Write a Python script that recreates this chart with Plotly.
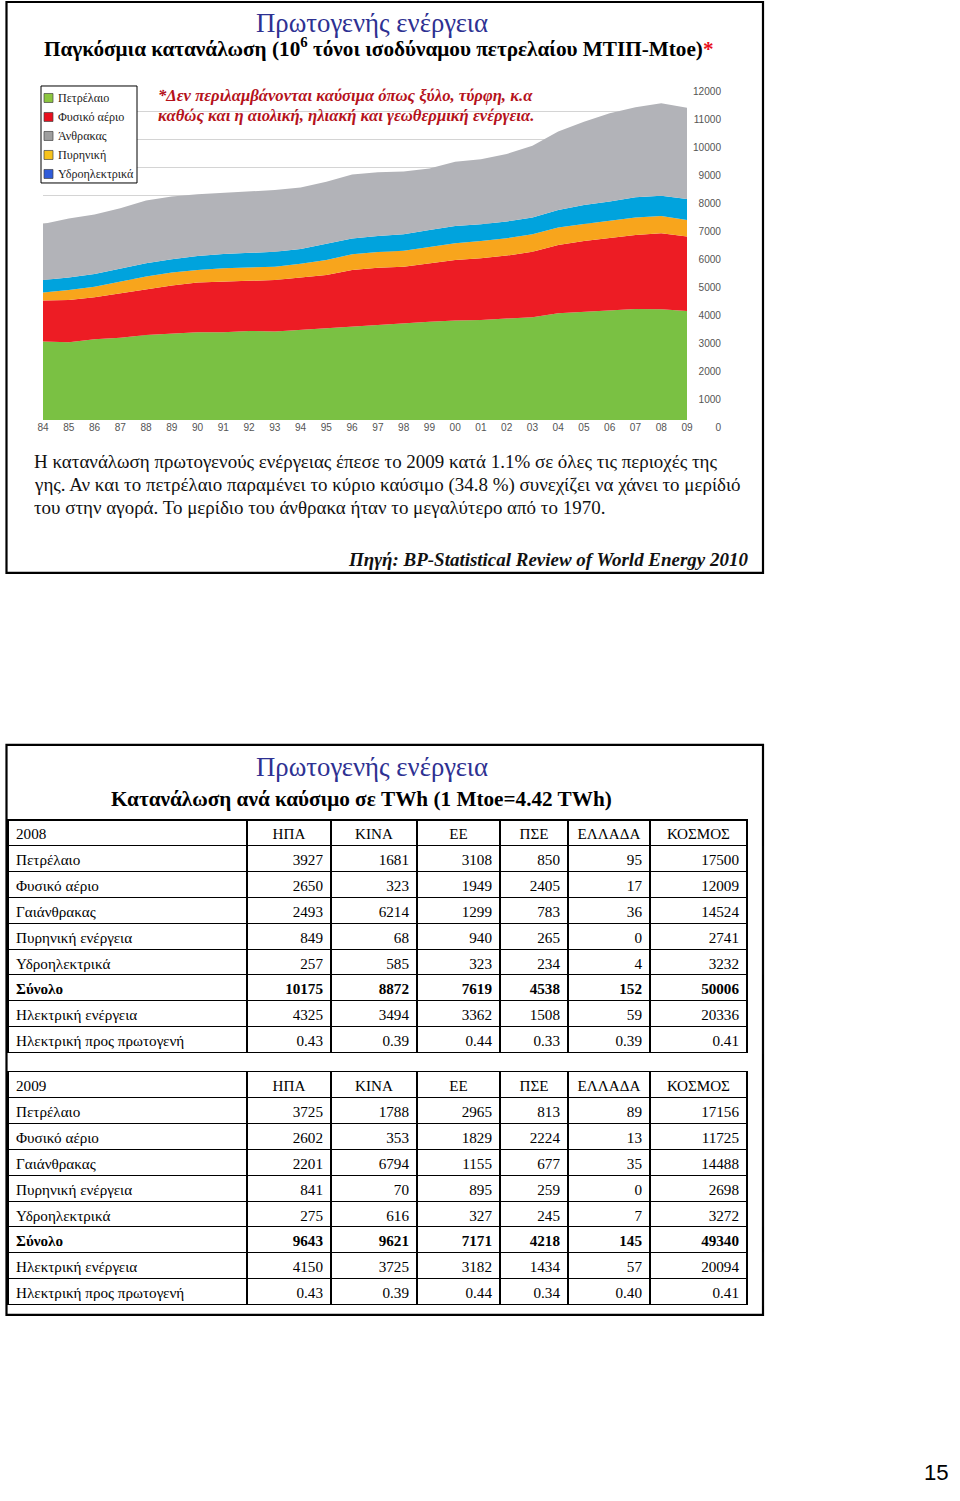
import plotly.graph_objects as go

W, H = 960, 1501

# ---------------- chart data (Mtoe) ----------------
years = list(range(1984, 2010))
year_labels = ["84", "85", "86", "87", "88", "89", "90", "91", "92", "93", "94", "95", "96",
               "97", "98", "99", "00", "01", "02", "03", "04", "05", "06", "07", "08", "09"]
oil = [2800, 2775, 2880, 2940, 3035, 3095, 3130, 3130, 3180, 3155, 3215, 3275, 3355,
       3415, 3450, 3510, 3550, 3570, 3620, 3665, 3810, 3855, 3895, 3965, 3950, 3895]
gas = [1465, 1510, 1500, 1585, 1645, 1705, 1775, 1810, 1810, 1845, 1870, 1905, 2000,
       2025, 2025, 2085, 2165, 2205, 2250, 2345, 2440, 2535, 2595, 2645, 2715, 2655]
nuclear = [285, 355, 380, 415, 440, 465, 450, 475, 465, 475, 490, 535, 560,
           560, 570, 570, 595, 620, 620, 620, 620, 605, 620, 620, 620, 595]
hydro = [450, 450, 450, 455, 475, 475, 500, 510, 525, 535, 535, 595, 570,
         570, 585, 620, 620, 595, 595, 605, 630, 680, 690, 725, 725, 750]
coal = [2000, 2105, 2130, 2165, 2240, 2240, 2205, 2190, 2180, 2200, 2190, 2200, 2285,
        2275, 2240, 2200, 2295, 2320, 2415, 2560, 2800, 2975, 3155, 3215, 3300, 3260]

series_names = ["Πετρέλαιο", "Φυσικό αέριο", "Πυρηνική", "Υδροηλεκτρικά", "Άνθρακας"]
series_vals = [oil, gas, nuclear, hydro, coal]
series_cols = ["#7AC143", "#ED1C24", "#F8A51C", "#00A3DD", "#B2B3B8"]

legend_names = ["Πετρέλαιο", "Φυσικό αέριο", "Άνθρακας", "Πυρηνική", "Υδροηλεκτρικά"]
legend_cols = ["#8CC63F", "#E8101E", "#9E9E9E", "#F7C21C", "#2F5BD9"]

y_ticks = list(range(0, 12001, 1000))

# ---------------- table data (TWh) ----------------
countries = ["ΗΠΑ", "ΚΙΝΑ", "ΕΕ", "ΠΣΕ", "ΕΛΛΑΔΑ", "ΚΟΣΜΟΣ"]
row_names = ["Πετρέλαιο", "Φυσικό αέριο", "Γαιάνθρακας", "Πυρηνική ενέργεια",
             "Υδροηλεκτρικά", "Σύνολο", "Ηλεκτρική ενέργεια", "Ηλεκτρική προς πρωτογενή"]
bold_row = "Σύνολο"

t2008 = {
    "ΗΠΑ":    [3927, 2650, 2493, 849, 257, 10175, 4325, 0.43],
    "ΚΙΝΑ":   [1681, 323, 6214, 68, 585, 8872, 3494, 0.39],
    "ΕΕ":     [3108, 1949, 1299, 940, 323, 7619, 3362, 0.44],
    "ΠΣΕ":    [850, 2405, 783, 265, 234, 4538, 1508, 0.33],
    "ΕΛΛΑΔΑ": [95, 17, 36, 0, 4, 152, 59, 0.39],
    "ΚΟΣΜΟΣ": [17500, 12009, 14524, 2741, 3232, 50006, 20336, 0.41],
}
t2009 = {
    "ΗΠΑ":    [3725, 2602, 2201, 841, 275, 9643, 4150, 0.43],
    "ΚΙΝΑ":   [1788, 353, 6794, 70, 616, 9621, 3725, 0.39],
    "ΕΕ":     [2965, 1829, 1155, 895, 327, 7171, 3182, 0.44],
    "ΠΣΕ":    [813, 2224, 677, 259, 245, 4218, 1434, 0.34],
    "ΕΛΛΑΔΑ": [89, 13, 35, 0, 7, 145, 57, 0.40],
    "ΚΟΣΜΟΣ": [17156, 11725, 14488, 2698, 3272, 49340, 20094, 0.41],
}

SERIF = "Liberation Serif"
SANS = "Liberation Sans"

# the photographed page comes out slightly shrunk; place items so they land on target pixels
SX, OX, SY = 0.9875, 6.0, 0.9915
FS = 1.01  # font compensation


def px(x):
    return min(max((x - OX) / SX, 0.5), W - 0.5) / W


def py(y):
    return 1 - (y / SY) / H


def f(size):
    return size * FS


fig = go.Figure()

# stacked areas
for name, vals, col in zip(series_names, series_vals, series_cols):
    fig.add_trace(go.Scatter(
        x=years, y=vals, name=name, mode="lines", stackgroup="energy",
        line=dict(width=0, color=col), fillcolor=col, showlegend=False,
        hoverinfo="x+y+name"))


def fmt(v):
    return f"{v:.2f}" if isinstance(v, float) else str(v)


RH = 25.75 / SY
COLW = [239, 84, 86, 83, 68, 82, 97]
LINE = dict(color="black", width=1.3)


def add_table(year, data, top):
    """Table drawn in two parts so that the bold total row keeps the same height."""
    b = row_names.index(bold_row)
    columns = [row_names] + [[fmt(v) for v in data[c]] for c in countries]
    n1 = b + 1
    top_f = top / SY
    y1_f = top_f + n1 * RH
    fig.add_trace(go.Table(
        domain=dict(x=[px(8), px(747)], y=[1 - (y1_f + 1.5) / H, 1 - top_f / H]),
        columnwidth=COLW,
        header=dict(values=[str(year)] + countries,
                    align=["left"] + ["center"] * 6,
                    font=dict(family=SERIF, size=f(15), color="black"),
                    fill_color="white", line=LINE, height=RH),
        cells=dict(values=[col[:b] for col in columns],
                   align=["left"] + ["right"] * 6,
                   font=dict(family=SERIF, size=f(15), color="black"),
                   fill_color="white", line=LINE, height=RH)))
    n2 = len(row_names) - b
    y2_f = y1_f + n2 * RH
    fig.add_trace(go.Table(
        domain=dict(x=[px(8), px(747)], y=[1 - (y2_f + 3) / H, 1 - y1_f / H]),
        columnwidth=COLW,
        header=dict(values=[col[b] for col in columns],
                    align=["left"] + ["right"] * 6,
                    font=dict(family=SERIF, size=f(15), color="black", weight="bold"),
                    fill_color="white", line=LINE, height=RH),
        cells=dict(values=[col[b + 1:] for col in columns],
                   align=["left"] + ["right"] * 6,
                   font=dict(family=SERIF, size=f(15), color="black"),
                   fill_color="white", line=LINE, height=RH)))


add_table(2008, t2008, 820)
add_table(2009, t2009, 1072)

annotations = [
    dict(x=px(372), y=py(23), text="Πρωτογενής ενέργεια",
         font=dict(family=SERIF, size=f(26.5), color="#2E3192"), xanchor="center"),
    dict(x=px(379), y=py(48),
         text="<b>Παγκόσμια κατανάλωση (10<sup>6</sup> τόνοι ισοδύναμου πετρελαίου ΜΤΙΠ-Mtoe)"
              "<span style='color:#E8101E'>*</span></b>",
         font=dict(family=SERIF, size=f(21), color="black"), xanchor="center"),
    dict(x=px(156), y=py(96), text="<b><i>*Δεν περιλαμβάνονται καύσιμα όπως ξύλο, τύρφη, κ.α</i></b>",
         font=dict(family=SERIF, size=f(16.5), color="#B5121B"), xanchor="left"),
    dict(x=px(156), y=py(116), text="<b><i>καθώς και η αιολική, ηλιακή και γεωθερμική ενέργεια.</i></b>",
         font=dict(family=SERIF, size=f(16.5), color="#B5121B"), xanchor="left"),
    dict(x=px(32), y=py(462),
         text="Η κατανάλωση πρωτογενούς ενέργειας έπεσε το 2009 κατά 1.1% σε όλες τις περιοχές της",
         font=dict(family=SERIF, size=f(18.8), color="#111"), xanchor="left"),
    dict(x=px(32), y=py(485),
         text="γης. Αν και το πετρέλαιο παραμένει το κύριο καύσιμο (34.8 %) συνεχίζει να χάνει το μερίδιό",
         font=dict(family=SERIF, size=f(18.8), color="#111"), xanchor="left"),
    dict(x=px(32), y=py(508),
         text="του στην αγορά. Το μερίδιο του άνθρακα ήταν το μεγαλύτερο από το 1970.",
         font=dict(family=SERIF, size=f(18.8), color="#111"), xanchor="left"),
    dict(x=px(750), y=py(560), text="<b><i>Πηγή: BP-Statistical Review of World Energy 2010</i></b>",
         font=dict(family=SERIF, size=f(18.8), color="#111"), xanchor="right"),
    dict(x=px(372), y=py(767), text="Πρωτογενής ενέργεια",
         font=dict(family=SERIF, size=f(26.5), color="#2E3192"), xanchor="center"),
    dict(x=px(362), y=py(799), text="<b>Κατανάλωση ανά καύσιμο σε TWh (1 Mtoe=4.42 TWh)</b>",
         font=dict(family=SERIF, size=f(21), color="black"), xanchor="center"),
]

shapes = [
    dict(type="rect", xref="paper", yref="paper", x0=px(2), x1=px(763), y0=py(573), y1=py(2),
         line=dict(color="black", width=2.2), fillcolor="rgba(0,0,0,0)", layer="below"),
    dict(type="rect", xref="paper", yref="paper", x0=px(2), x1=px(763), y0=py(1315), y1=py(745),
         line=dict(color="black", width=2.2), fillcolor="rgba(0,0,0,0)", layer="below"),
    dict(type="rect", xref="paper", yref="paper", x0=px(41), x1=px(137), y0=py(183), y1=py(86),
         line=dict(color="black", width=1), fillcolor="white", layer="above"),
]

for i, (name, col) in enumerate(zip(legend_names, legend_cols)):
    yc = 98 + 19 * i
    shapes.append(dict(type="rect", xref="paper", yref="paper",
                       x0=px(44), x1=px(53), y0=py(yc + 4.5), y1=py(yc - 4.5),
                       line=dict(color="#444", width=0.7), fillcolor=col, layer="above"))
    annotations.append(dict(x=px(56), y=py(yc), text=name, xanchor="left",
                            font=dict(family=SERIF, size=f(12), color="#222")))

for a in annotations:
    a.update(xref="paper", yref="paper", yanchor="middle", showarrow=False)

# page number at the bottom-right corner, kept fully inside the page
annotations.append(dict(x=1 - 3 / W, y=1 / H, xref="paper", yref="paper",
                        xanchor="right", yanchor="bottom", showarrow=False, text="15",
                        font=dict(family=SANS, size=f(22), color="black")))

fig.update_layout(
    width=W, height=H, margin=dict(l=0, r=0, t=0, b=0),
    paper_bgcolor="white", plot_bgcolor="white",
    font=dict(family=SERIF),
    annotations=annotations, shapes=shapes,
    xaxis=dict(domain=[px(43), px(687)], range=[1984, 2009], tickvals=years, ticktext=year_labels,
               showgrid=False, zeroline=False, showline=False, ticks="",
               tickfont=dict(family=SANS, size=f(10), color="#555"), fixedrange=True),
    yaxis=dict(domain=[py(420), py(84)], range=[0, 12000], tickvals=y_ticks, tickformat="d",
               anchor="free", position=px(721), side="left", ticklabelposition="outside bottom",
               showgrid=True, gridcolor="#D4D4D4", gridwidth=1, zeroline=False, showline=False,
               ticks="", tickfont=dict(family=SANS, size=f(10), color="#555"), fixedrange=True),
    showlegend=False,
)

fig.write_html("out.html", config={"displayModeBar": False},
               post_script="document.body.style.margin='0';")
